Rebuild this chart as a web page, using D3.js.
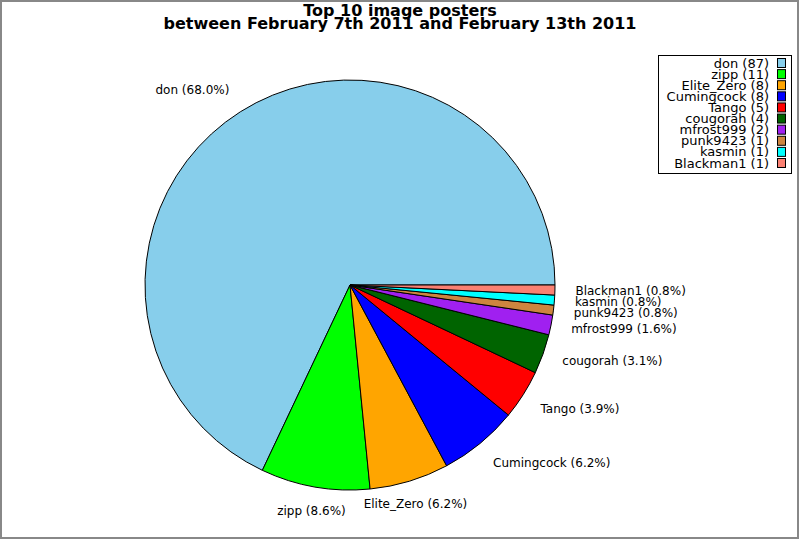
<!DOCTYPE html>
<html>
<head>
<meta charset="utf-8">
<script src="https://cdn.jsdelivr.net/npm/d3@7"></script>
<style>
  html, body { margin: 0; padding: 0; background: #fff; }
  svg { display: block; }
  text { font-family: "DejaVu Sans", sans-serif; fill: #000; }
</style>
</head>
<body>
<svg id="chart" width="800" height="540"></svg>
<script>
// ---- data ----
const names = ["don", "zipp", "Elite_Zero", "Cumingcock", "Tango", "cougorah", "mfrost999", "punk9423", "kasmin", "Blackman1"];
const counts = [87, 11, 8, 8, 5, 4, 2, 1, 1, 1];
const percentLabels = ["68.0", "8.6", "6.2", "6.2", "3.9", "3.1", "1.6", "0.8", "0.8", "0.8"];
const palette = ["#87ceeb", "#00ff00", "#ffa500", "#0000ff", "#ff0000", "#006400", "#a020f0", "#cd853f", "#00ffff", "#fa8072"];
const titleLines = ["Top 10 image posters", "between February 7th 2011 and February 13th 2011"];

const W = 800, H = 540;
const cx = 350, cy = 285, R = 205;
const svg = d3.select("#chart");

// frame
svg.append("rect")
  .attr("x", 1).attr("y", 1).attr("width", W - 3).attr("height", H - 3)
  .attr("fill", "#fff").attr("stroke", "#888").attr("stroke-width", 2);

// title
svg.append("g").selectAll("text").data(titleLines).join("text")
  .attr("x", 400).attr("y", (d, i) => 16 + i * 13)
  .attr("text-anchor", "middle")
  .attr("font-weight", "bold").attr("font-size", 16)
  .text(d => d);

const data = names.map((n, i) => ({ name: n, count: counts[i], pct: percentLabels[i], color: palette[i] }));

// counterclockwise starting at 3 o'clock
const pie = d3.pie().sort(null).value(d => d.count)
  .startAngle(Math.PI / 2).endAngle(Math.PI / 2 - 2 * Math.PI);
const arcs = pie(data);
const arc = d3.arc().innerRadius(0).outerRadius(R);

const g = svg.append("g").attr("transform", `translate(${cx},${cy})`);
g.selectAll("path").data(arcs).join("path")
  .attr("d", arc)
  .attr("fill", d => d.data.color)
  .attr("stroke", "#000").attr("stroke-width", 1).attr("stroke-linejoin", "round");

// labels at 1.1 R
const LR = R * 1.1;
g.selectAll("text.lbl").data(arcs).join("text")
  .attr("class", "lbl")
  .each(function (d) {
    const a = (d.startAngle + d.endAngle) / 2;
    const s = Math.sin(a), c = Math.cos(a); // x = sin, up = cos
    const x = LR * s, y = -LR * c;
    const anchor = s > 0.4 ? "start" : s < -0.4 ? "end" : "middle";
    const shift = c > 0.5 ? -4.5 : c < -0.5 ? 3.5 : 0;
    d3.select(this)
      .attr("x", x).attr("y", y + shift)
      .attr("text-anchor", anchor)
      .attr("dominant-baseline", "central")
      .attr("font-size", 12)
      .text(`${d.data.name} (${d.data.pct}%)`);
  });

// legend
const lx0 = 658.5, ly0 = 55.5, lw = 133, lh = 118;
const leg = svg.append("g");
leg.append("rect").attr("x", lx0).attr("y", ly0).attr("width", lw).attr("height", lh)
  .attr("fill", "#fff").attr("stroke", "#000").attr("stroke-width", 1);
const rowY = d3.scalePoint().domain(names).range([63, 163]);
const rows = leg.selectAll("g.row").data(data).join("g").attr("class", "row");
rows.append("text")
  .attr("x", 769).attr("y", d => rowY(d.name))
  .attr("text-anchor", "end").attr("dominant-baseline", "central")
  .attr("font-size", 13)
  .text(d => `${d.name} (${d.count})`);
rows.append("rect")
  .attr("x", 777.5).attr("y", d => rowY(d.name) - 4.5)
  .attr("width", 8).attr("height", 9)
  .attr("fill", d => d.color).attr("stroke", "#000").attr("stroke-width", 1);
</script>
</body>
</html>
